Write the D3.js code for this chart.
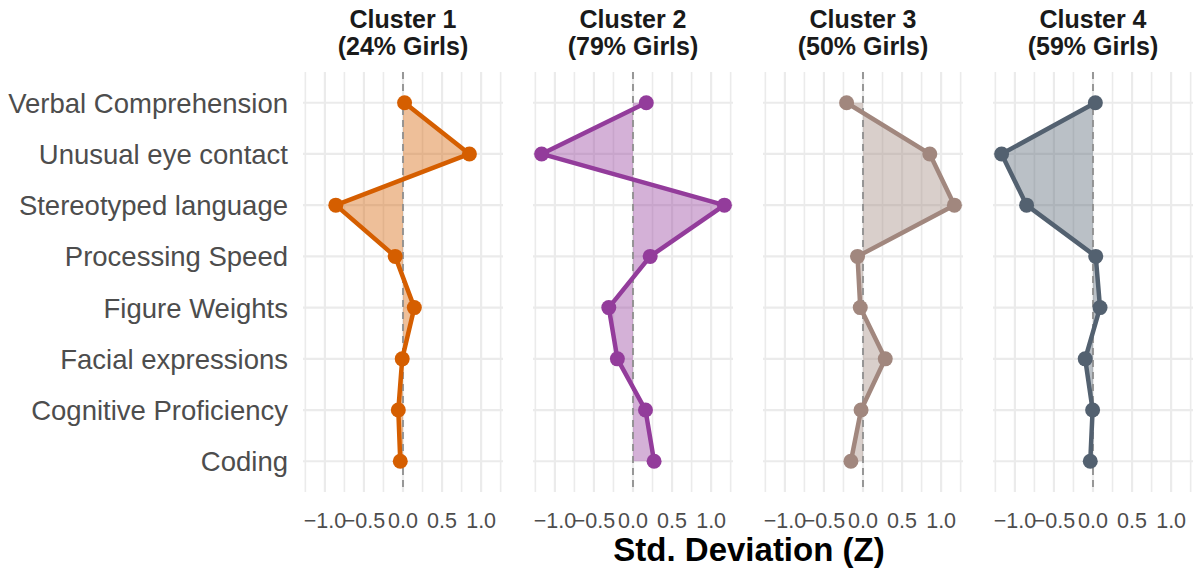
<!DOCTYPE html>
<html>
<head>
<meta charset="utf-8">
<script src="https://cdn.jsdelivr.net/npm/d3@7"></script>
<style>
  body { margin: 0; background: #fff; }
  svg { font-family: "Liberation Sans", Arial, sans-serif; }
</style>
</head>
<body>
<div id="chart"></div>
<script>
// measures, top to bottom
var categories = ["Verbal Comprehension", "Unusual eye contact", "Stereotyped language",
  "Processing Speed", "Figure Weights", "Facial expressions", "Cognitive Proficiency", "Coding"];

var clusterNames = ["Cluster 1", "Cluster 2", "Cluster 3", "Cluster 4"];
var girlsPct = [24, 79, 50, 59];

// z scores per cluster, same order as categories
var cluster1 = [0.02, 0.85, -0.86, -0.10, 0.145, -0.01, -0.06, -0.035];
var cluster2 = [0.17, -1.17, 1.17, 0.22, -0.31, -0.20, 0.16, 0.27];
var cluster3 = [-0.21, 0.855, 1.17, -0.07, -0.035, 0.285, -0.025, -0.155];
var cluster4 = [0.03, -1.17, -0.85, 0.035, 0.09, -0.10, -0.005, -0.035];

var xTicks = [-1.0, -0.5, 0.0, 0.5, 1.0];
var colors = ["#D55E00", "#933C9B", "#A1877E", "#536170"];

var allValues = [cluster1, cluster2, cluster3, cluster4];

var W = 1195, H = 570;
var panelW = 200, panelGap = 30, left0 = 303;
var yTop = 72, yBottom = 492;

var svg = d3.select("#chart").append("svg")
  .attr("width", W).attr("height", H);

var x = d3.scaleLinear().domain([-1.28, 1.28]).range([0, panelW]);
var y = d3.scalePoint().domain(categories).range([yTop, yBottom]).padding(0.6);

// y axis labels
svg.append("g").selectAll("text")
  .data(categories)
  .enter().append("text")
  .attr("x", left0 - 15)
  .attr("y", function (d) { return y(d); })
  .attr("dy", "0.36em")
  .attr("text-anchor", "end")
  .attr("font-size", "27.5px")
  .attr("fill", "#4D4D4D")
  .text(function (d) { return d; });

var minorTicks = d3.range(-1.25, 1.26, 0.5);

clusterNames.forEach(function (name, i) {
  var vals = allValues[i];
  var pts = categories.map(function (c, j) { return { cat: c, v: vals[j] }; });
  var g = svg.append("g")
    .attr("transform", "translate(" + (left0 + i * (panelW + panelGap)) + ",0)");

  // grid
  g.selectAll("line.minor").data(minorTicks).enter().append("line")
    .attr("x1", x).attr("x2", x).attr("y1", yTop).attr("y2", yBottom)
    .attr("stroke", "#EBEBEB").attr("stroke-width", 1.6);
  g.selectAll("line.major").data(xTicks).enter().append("line")
    .attr("x1", x).attr("x2", x).attr("y1", yTop).attr("y2", yBottom)
    .attr("stroke", "#EBEBEB").attr("stroke-width", 2.2);
  g.selectAll("line.hgrid").data(categories).enter().append("line")
    .attr("x1", 0).attr("x2", panelW)
    .attr("y1", y).attr("y2", y)
    .attr("stroke", "#EBEBEB").attr("stroke-width", 2.2);

  // shaded area from zero to the profile
  var area = d3.area()
    .y(function (d) { return y(d.cat); })
    .x0(x(0))
    .x1(function (d) { return x(d.v); });
  g.append("path")
    .datum(pts)
    .attr("d", area)
    .attr("fill", colors[i])
    .attr("fill-opacity", 0.4);

  // zero line
  g.append("line")
    .attr("x1", x(0)).attr("x2", x(0))
    .attr("y1", yTop).attr("y2", yBottom)
    .attr("stroke", "#8F8F8F")
    .attr("stroke-width", 1.8)
    .attr("stroke-dasharray", "7,5");

  var line = d3.line()
    .x(function (d) { return x(d.v); })
    .y(function (d) { return y(d.cat); });
  g.append("path")
    .datum(pts)
    .attr("d", line)
    .attr("fill", "none")
    .attr("stroke", colors[i])
    .attr("stroke-width", 4.5)
    .attr("stroke-linejoin", "round");

  g.selectAll("circle").data(pts).enter().append("circle")
    .attr("cx", function (d) { return x(d.v); })
    .attr("cy", function (d) { return y(d.cat); })
    .attr("r", 7.5)
    .attr("fill", colors[i]);

  // x tick labels
  g.selectAll("text.tick").data(xTicks).enter().append("text")
    .attr("x", x)
    .attr("y", 528)
    .attr("text-anchor", "middle")
    .attr("font-size", "21.5px")
    .attr("fill", "#4D4D4D")
    .text(function (d) { return d3.format(".1f")(d).replace("-", "\u2212"); });

  // strip title
  var t = g.append("text")
    .attr("x", panelW / 2)
    .attr("text-anchor", "middle")
    .attr("font-size", "25px")
    .attr("font-weight", "bold")
    .attr("fill", "#1A1A1A");
  t.append("tspan").attr("x", panelW / 2).attr("y", 28).text(name);
  t.append("tspan").attr("x", panelW / 2).attr("y", 55).text("(" + girlsPct[i] + "% Girls)");
});

svg.append("text")
  .attr("x", 749)
  .attr("y", 561)
  .attr("text-anchor", "middle")
  .attr("font-size", "33px")
  .attr("font-weight", "bold")
  .attr("fill", "#000")
  .text("Std. Deviation (Z)");
</script>
</body>
</html>
